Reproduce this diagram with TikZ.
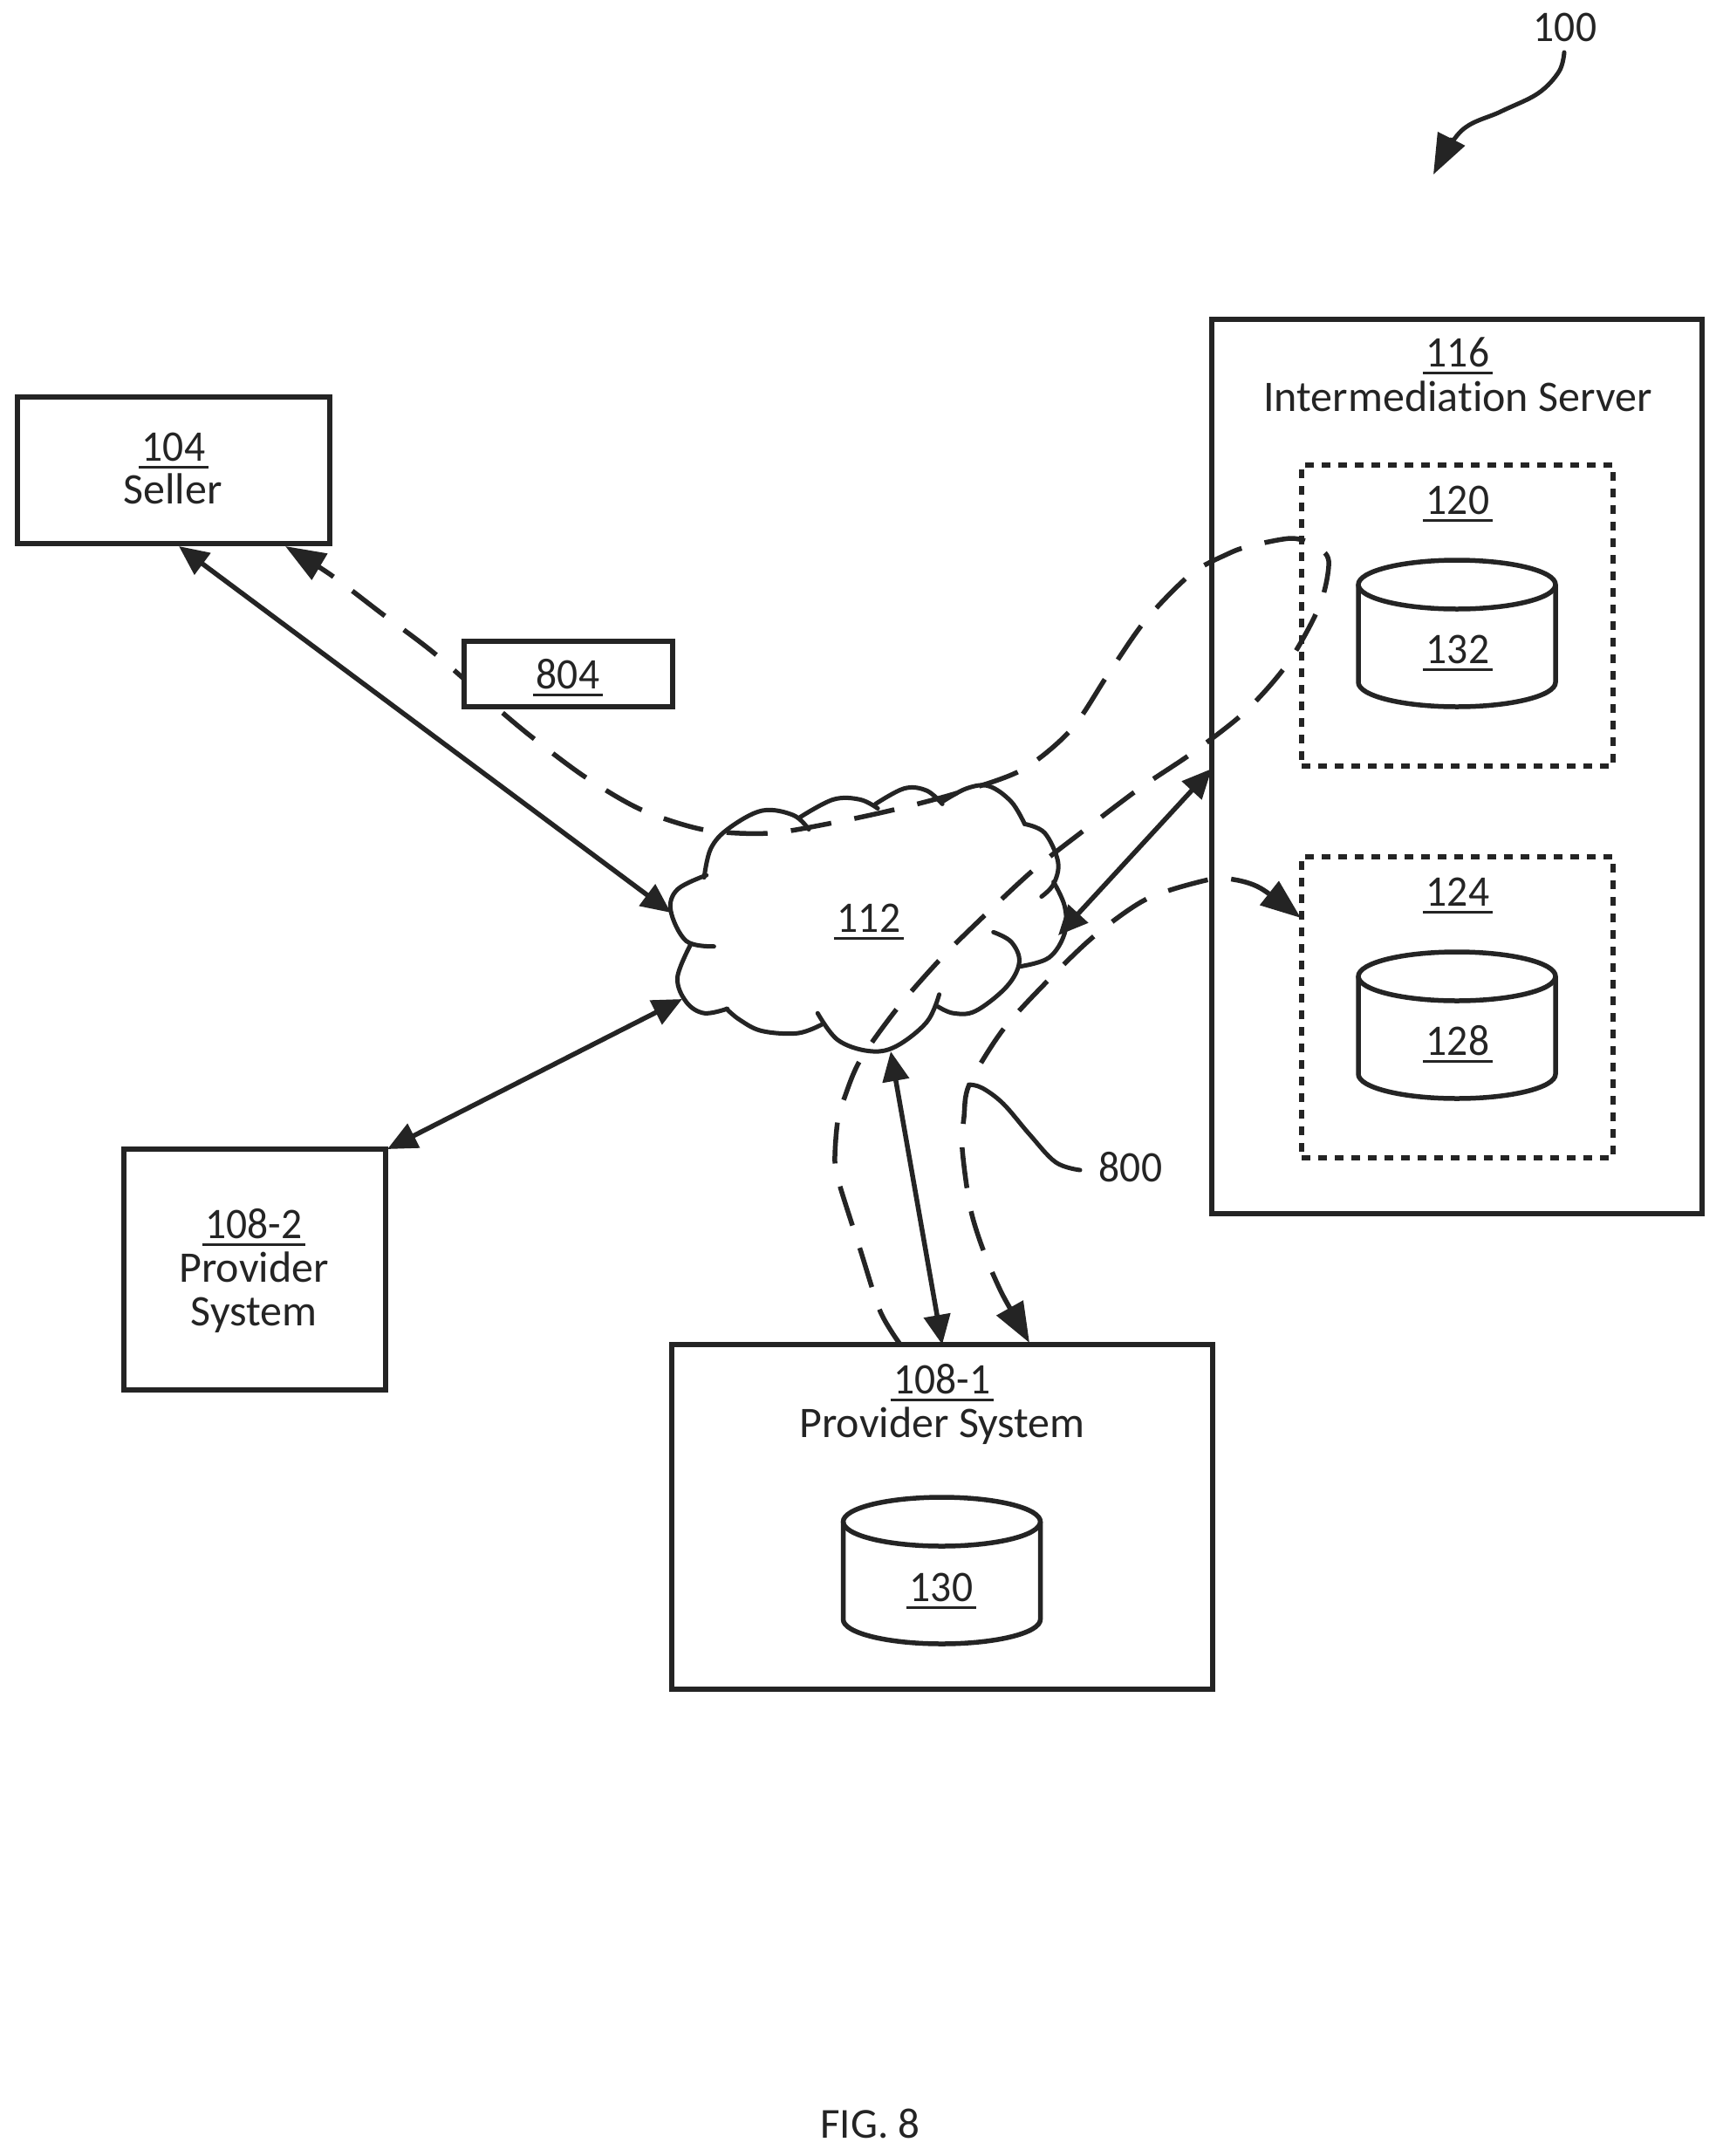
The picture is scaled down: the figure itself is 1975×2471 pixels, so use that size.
\documentclass[tikz,border=0pt]{standalone}
\usepackage{fontspec}
\setmainfont{Carlito}[Ligatures=CommonOff]
\newfontfamily\numfont{Carlito}[FakeStretch=0.95]
\usetikzlibrary{arrows.meta}
\definecolor{ink}{gray}{0.14}
\newcommand\ulnum[1]{{\numfont\setbox0\hbox{#1}\dimen0=\wd0 \advance\dimen0 by 8pt \hbox{\kern4pt\rlap{\kern-4pt\raisebox{-9pt}{\rule{\dimen0}{3.5pt}}}\box0\kern4pt}}}
\tikzset{
  lab/.style={inner sep=0pt,outer sep=0pt,anchor=base,text=ink,font=\fontsize{50}{60}\selectfont},
  capt/.style={lab,font=\fontsize{49}{58}\selectfont},
  box/.style={draw=ink,line width=6pt,inner sep=0pt,outer sep=0pt,rectangle},
  dotbox/.style={box,dash pattern=on 10pt off 9pt},
  conn/.style={draw=ink,line width=5.5pt,{Triangle[length=34pt,width=30pt]}-{Triangle[length=34pt,width=30pt]},shorten >=0pt,shorten <=0pt},
  dashconn/.style={draw=ink,line width=5.5pt,dash pattern=on 47pt off 27pt},
  bigtip/.tip={Triangle[length=46pt,width=34pt]},
  lead/.style={draw=ink,line width=5pt,line cap=round},
  cyl/.style={draw=ink,line width=5.5pt},
  lobe/.style={draw=ink,line width=5pt,line cap=round},
}
\newcommand\cylinder[3]{% name, cx, top
  \node[inner sep=0pt,minimum width=226pt,minimum height=168pt] (#1) at (#2,#3+84) {};
  \draw[cyl] (#2,#3+28) ellipse [x radius=113pt,y radius=28pt];
  \draw[cyl] (#2-113,#3+28) -- (#2-113,#3+140) arc[start angle=180,end angle=360,x radius=113pt,y radius=28pt] -- (#2+113,#3+28);
}
\begin{document}
\begin{tikzpicture}[x=1pt,y=-1pt]
\useasboundingbox[fill=white] (0,0) rectangle (1975,2471);

% boxes
\node[box,minimum width=358pt,minimum height=168pt] (seller) at (199,539) {};
\node[box,minimum width=562pt,minimum height=1025pt] (server) at (1670,878.5) {};
\node[dotbox,minimum width=357pt,minimum height=345pt] (b120) at (1670.5,705.5) {};
\node[dotbox,minimum width=357pt,minimum height=345pt] (b124) at (1670.5,1154.5) {};
\node[box,minimum width=300pt,minimum height=276pt] (prov2) at (292,1455) {};
\node[box,minimum width=620pt,minimum height=395pt] (prov1) at (1080,1738.5) {};

% named ends of the connectors
\coordinate (sellerA) at (205,626);
\coordinate (sellerB) at (327,626);
\coordinate (cloudW) at (769,1046);
\coordinate (cloudSW) at (782,1145);
\coordinate (prov2NE) at (444,1317);
\coordinate (cloudS) at (1021,1205);
\coordinate (prov1A) at (1080,1541);
\coordinate (prov1B) at (1032,1541);
\coordinate (prov1C) at (1180,1539);
\coordinate (cloudE) at (1213,1072);
\coordinate (serverW) at (1389,881);
\coordinate (b124W) at (1491,1052);
\coordinate (lab100) at (1793,60);
\coordinate (pt100) at (1643,200);
\coordinate (lead800) at (1238,1341);
\coordinate (dashtop) at (1111,1243);

% cloud
\begin{scope}[shift={(700pt,-850pt)},x=0.5102pt,y=-0.5102pt]
\draw[lobe] plot[smooth,tension=0.6] coordinates {(232,460) (170,448) (135,380) (150,332) (215,300)};
\draw[lobe] plot[smooth,tension=0.6] coordinates {(210,305) (225,240) (265,195) (340,155) (410,165) (445,197)};
\draw[lobe] plot[smooth,tension=0.6] coordinates {(425,170) (500,130) (560,130) (600,150)};
\draw[lobe] plot[smooth,tension=0.6] coordinates {(595,140) (660,105) (710,110) (745,140)};
\draw[lobe] plot[smooth,tension=0.6] coordinates {(745,135) (800,105) (850,100) (900,135) (930,185)};
\draw[lobe] plot[smooth,tension=0.6] coordinates {(930,185) (975,205) (1005,270) (995,320) (968,348)};
\draw[lobe] plot[smooth,tension=0.6] coordinates {(995,315) (1020,370) (1020,430) (985,485) (920,505)};
\draw[lobe] plot[smooth,tension=0.6] coordinates {(860,428) (900,450) (918,495) (890,550) (820,605) (770,610) (735,595)};
\draw[lobe] plot[smooth,tension=0.6] coordinates {(738,568) (710,630) (640,685) (580,695) (510,670) (465,610)};
\draw[lobe] plot[smooth,tension=0.6] coordinates {(475,635) (420,655) (340,650) (290,625) (260,600)};
\draw[lobe] plot[smooth,tension=0.6] coordinates {(262,600) (210,610) (170,585) (150,530) (180,455)};
\end{scope}

% dashed message path from 108-1 through 120 to the seller
\draw[dashconn,-{bigtip}] plot[smooth,tension=0.5] coordinates {
 (prov1B) (1009,1503) (986,1432) (963,1360) (957,1332) (960,1286) (968,1258) (986,1215) (1029,1155) (1080,1097)
 (1134,1044) (1187,995) (1246,949) (1307,903) (1368,862) (1428,815) (1477,759) (1513,693) (1523,643) (1507,625)
 (1480,617) (1432,626) (1407,635) (1365,658) (1313,711) (1270,773) (1228,836) (1172,882) (1100,908) (1029,927)
 (955,943) (881,955) (807,951) (735,928) (670,890) (610,845) (568,810) (497,748) (436,702) (378,658) (sellerB)};

% box 804 covers the dashed path
\node[box,fill=white,minimum width=239pt,minimum height=75pt] (b804) at (651,772.5) {};

% dashed message path between 108-1 and 124
\draw[dashconn,{bigtip}-{bigtip}] plot[smooth,tension=0.5] coordinates {
 (prov1C) (1139,1462) (1114,1392) (1103,1317) (1105,1280) (dashtop) (1149,1181) (1200,1125) (1254,1073) (1315,1030)
 (1386,1008) (1414,1008) (1445,1018) (b124W)};

% solid connectors
\draw[conn] (sellerA) -- (cloudW);
\draw[conn] (prov2NE) -- (cloudSW);
\draw[conn] (cloudS) -- (prov1A);
\draw[conn] (cloudE) -- (serverW);

% leaders
\draw[lead,-{bigtip}] plot[smooth,tension=0.6] coordinates {(lab100) (1787,82) (1763,107) (1720,128) (1675,150) (pt100)};
\draw[lead] plot[smooth,tension=0.6] coordinates {(dashtop) (1126,1247) (1150,1265) (1180,1300) (1210,1332) (lead800)};

% cylinders
\cylinder{c132}{1670}{642}
\cylinder{c128}{1670}{1091}
\cylinder{c130}{1079.5}{1716}

% labels
\node[lab] (t100) at (1794,47) {\numfont 100};
\node[lab] (t116) at (1671,420) {\ulnum{116}};
\node[lab] (tserver) at (1671,471) {Intermediation Server};
\node[lab] (t120) at (1671,589) {\ulnum{120}};
\node[lab] (t132) at (1671,760) {\ulnum{132}};
\node[lab] (t124) at (1671,1038) {\ulnum{124}};
\node[lab] (t128) at (1671,1209) {\ulnum{128}};
\node[lab] (t104) at (199,528) {\ulnum{104}};
\node[lab] (tseller) at (198,577) {Seller};
\node[lab] (t804) at (651,789) {\ulnum{804}};
\node[lab] (t112) at (996,1068) {\ulnum{112}};
\node[lab] (t1082) at (291,1419) {\ulnum{108-2}};
\node[lab] (tprov2a) at (291,1469) {Provider};
\node[lab] (tprov2b) at (291,1519) {System};
\node[lab] (t1081) at (1080,1597) {\ulnum{108-1}};
\node[lab] (tprov1) at (1080,1647) {Provider System};
\node[lab] (t130) at (1079,1835) {\ulnum{130}};
\node[lab] (t800) at (1296,1354) {\numfont 800};
\node[capt] (tfig) at (997.5,2450) {FIG. 8};
\end{tikzpicture}
\end{document}
